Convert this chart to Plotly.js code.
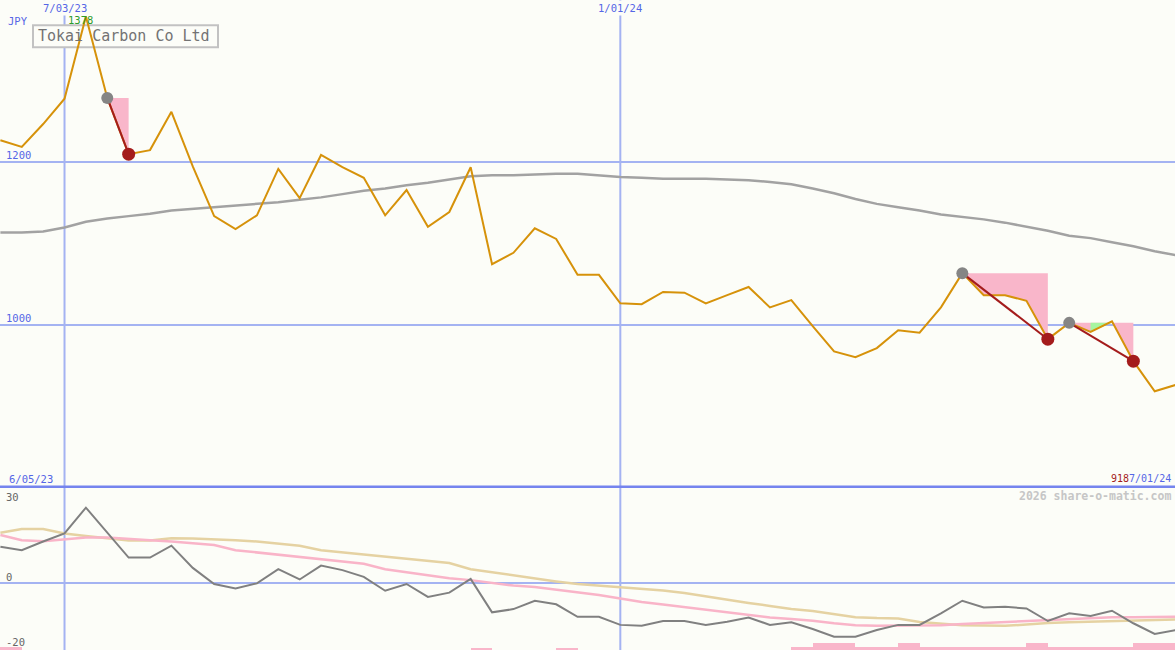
<!DOCTYPE html>
<html><head><meta charset="utf-8">
<script src="https://cdn.plot.ly/plotly-3.0.1.min.js"></script>
<style>html,body{margin:0;padding:0;background:#fcfdf8;overflow:hidden}#chart{width:1175px;height:650px}</style>
</head><body><div id="chart"></div>
<script>
// ---------- data ----------
const weeks = ['2023-06-12','2023-06-19','2023-06-26','2023-07-03','2023-07-10','2023-07-17','2023-07-24','2023-07-31',
'2023-08-07','2023-08-14','2023-08-21','2023-08-28','2023-09-04','2023-09-11','2023-09-18','2023-09-25',
'2023-10-02','2023-10-09','2023-10-16','2023-10-23','2023-10-30','2023-11-06','2023-11-13','2023-11-20','2023-11-27',
'2023-12-04','2023-12-11','2023-12-18','2023-12-25','2024-01-01','2024-01-08','2024-01-15','2024-01-22','2024-01-29',
'2024-02-05','2024-02-12','2024-02-19','2024-02-26','2024-03-04','2024-03-11','2024-03-18','2024-03-25',
'2024-04-01','2024-04-08','2024-04-15','2024-04-22','2024-04-29','2024-05-06','2024-05-13','2024-05-20','2024-05-27',
'2024-06-03','2024-06-10','2024-06-17','2024-06-24','2024-07-01'];
const price = [1226,1218,1246,1277,1378,1278,1209,1214,1261,1194,1133,1117,1134,1191,1155,1208,
1193,1180,1134,1165,1120,1138,1193,1074,1088,1118,1105,1061,1061,1026,1025,1040,1039,1026,
1036,1046,1021,1030,998,967,960,971,993,990,1021,1063,1036,1036,1029,982,1002,991,1004,955,918,926];
const priceMA = [1113,1113,1114,1119,1126,1130,1133,1136,1140,1142,1144,1146,1148,1150,1153,1156,
1160,1164,1167,1171,1174,1178,1182,1183,1183,1184,1185,1185,1183,1181,1180,1179,1179,1179,
1178,1177,1175,1172,1167,1161,1154,1148,1144,1140,1135,1132,1129,1125,1120,1115,1109,1106,1101,1096,1090,1085];
const oscMain = [11.4,10.3,13.0,15.5,23.5,15.7,8.0,8.0,11.7,4.8,-0.2,-1.6,0,4.4,1.2,5.5,
4.1,2.0,-2.3,-0.2,-4.2,-2.9,1.4,-9.0,-8.0,-5.4,-6.5,-10.4,-10.4,-12.9,-13.2,-11.7,-11.7,-12.9,
-11.9,-10.6,-12.9,-12.1,-14.2,-16.6,-16.6,-14.5,-12.9,-12.9,-9.3,-5.4,-7.5,-7.3,-7.8,-11.7,-9.3,-10.1,-8.5,-12.4,-15.7,-14.5];
const oscPink = [15.0,13.4,13.1,13.7,14.2,14.2,13.7,13.4,13.0,12.5,11.9,10.3,9.6,9.1,8.3,7.7,
6.9,6.1,4.4,3.5,2.4,1.6,1.0,0.1,-0.7,-1.1,-1.9,-2.7,-3.6,-4.7,-5.8,-6.6,-7.4,-8.3,
-9.1,-9.7,-10.6,-11.1,-11.6,-12.4,-13.0,-13.2,-13.2,-13.2,-13.0,-12.6,-12.3,-12.0,-11.6,-11.4,-11.2,-10.8,-10.5,-10.5,-10.4,-10.4];
const oscTan = [15.7,16.9,16.9,15.5,14.7,14.0,13.3,13.3,14.0,13.9,13.7,13.4,13.0,12.4,11.7,10.3,
9.6,8.9,8.3,7.7,6.9,6.3,4.4,3.4,2.6,1.5,0.6,-0.2,-0.7,-1.1,-1.6,-2.2,-3.0,-4.1,
-5.2,-6.1,-7.0,-8.0,-8.6,-9.5,-10.5,-10.8,-10.9,-12.0,-12.5,-13.0,-13.1,-13.2,-12.8,-12.3,-12.1,-11.9,-11.6,-11.4,-11.2,-11.2];
const signalBars = [1.0,0,0,0,0,0,0,0,0,0,0,0,0,0,0,0,
0,0,0,0,0,0,0.7,0,0,0,0.7,0,0,0,0,0,0,0,
0,0,0,1.0,2.1,2.1,1.0,1.0,2.1,1.0,1.0,1.0,1.0,1.0,2.1,1.0,1.0,1.0,1.0,2.1,2.1,0];
const drawdownStart = [5,45,50];
const drawdownEnd = [6,49,53];
const priceTicks = [1000,1200];
const oscTicks = [30,0,-20];
const xTickDates = ['2023-07-03','2024-01-01'];
const xTickLabels = ['7/03/23','1/01/24'];
const chartTitle = 'Tokai Carbon Co Ltd';
const currency = 'JPY';
const firstDateLabel = '6/05/23';
const lastDateLabel = '7/01/24';
const credit = '2026 share-o-matic.com';

// ---------- styles ----------
const BG = '#fcfdf8', GRID = '#a4b3f2', AXTXT = '#5566e6', MONO = 'DejaVu Sans Mono, monospace';
const PINK = '#f9b6ca', GREEN = '#a6f5a0', DARKRED = '#a41c1c';
const WEEK_MS = 7*24*3600*1000;

const traces = [];
// long moving average
traces.push({x:weeks, y:priceMA, type:'scatter', mode:'lines', line:{color:'#a2a2a2', width:2.5}, xaxis:'x', yaxis:'y'});
// drawdown fills: one pink polygon per drawdown, green over rising weeks
drawdownStart.forEach((s,k)=>{
  const e = drawdownEnd[k], level = price[s];
  const xs = weeks.slice(s,e+1), ys = price.slice(s,e+1);
  traces.push({x:xs.concat([weeks[e],weeks[s],weeks[s]]), y:ys.concat([level,level,price[s]]), type:'scatter',
    mode:'lines', fill:'toself', fillcolor:PINK, line:{width:0}, xaxis:'x', yaxis:'y'});
  for(let i=s;i<e;i++){
    if(price[i+1] > price[i]){
      traces.push({x:[weeks[i],weeks[i+1],weeks[i+1],weeks[i],weeks[i]],
        y:[price[i],Math.min(price[i+1],level),level,level,price[i]], type:'scatter', mode:'lines', fill:'toself',
        fillcolor:GREEN, line:{width:0}, xaxis:'x', yaxis:'y'});
    }
  }
});
// price line
traces.push({x:weeks, y:price, type:'scatter', mode:'lines', line:{color:'#d6920a', width:2}, xaxis:'x', yaxis:'y'});
// drawdown connector lines
const cx=[], cy=[];
drawdownStart.forEach((s,k)=>{ const e=drawdownEnd[k]; cx.push(weeks[s],weeks[e],null); cy.push(price[s],price[e],null); });
traces.push({x:cx, y:cy, type:'scatter', mode:'lines', line:{color:DARKRED, width:2}, xaxis:'x', yaxis:'y'});
traces.push({x:drawdownStart.map(i=>weeks[i]), y:drawdownStart.map(i=>price[i]), type:'scatter', mode:'markers',
  marker:{color:'#858585', size:12}, xaxis:'x', yaxis:'y'});
traces.push({x:drawdownEnd.map(i=>weeks[i]), y:drawdownEnd.map(i=>price[i]), type:'scatter', mode:'markers',
  marker:{color:DARKRED, size:13}, xaxis:'x', yaxis:'y'});

// lower panel
const oscRange = [-20.7, 29.3];
traces.push({x:weeks, y:signalBars, base:oscRange[0], type:'bar', offset:0, width:WEEK_MS,
  marker:{color:PINK, line:{width:0}}, xaxis:'x', yaxis:'y2'});
traces.push({x:weeks, y:oscTan, type:'scatter', mode:'lines', line:{color:'#e5d2a2', width:2.5}, xaxis:'x', yaxis:'y2'});
traces.push({x:weeks, y:oscPink, type:'scatter', mode:'lines', line:{color:'#f9b4c8', width:2.5}, xaxis:'x', yaxis:'y2'});
traces.push({x:weeks, y:oscMain, type:'scatter', mode:'lines', line:{color:'#808080', width:2}, xaxis:'x', yaxis:'y2'});

// ---------- layout ----------
const W=1175, H=650;
const py = p => 1 - p/H, px = p => p/W;
const TOP2 = 489, BOT2 = 650;
const y2pix = v => BOT2 - (v - oscRange[0]) / (oscRange[1]-oscRange[0]) * (BOT2-TOP2);
const shapes = [];
xTickDates.forEach(d=>shapes.push({type:'line', layer:'below', xref:'x', yref:'paper', x0:d, x1:d, y0:0, y1:1,
  line:{color:GRID, width:2}}));
shapes.push({type:'line', layer:'above', xref:'paper', yref:'paper', x0:0, x1:1, y0:py(486.8), y1:py(486.8),
  line:{color:'#7584ee', width:2.5}});
shapes.push({type:'rect', layer:'between', xref:'paper', yref:'paper', x0:px(33), x1:px(218), y0:py(47.3), y1:py(25.3),
  fillcolor:BG, line:{color:'#c2c2c2', width:2}});

const annotations = [];
const f = (size,color,extra)=>Object.assign({family:MONO, size:size, color:color}, extra||{});
xTickDates.forEach((d,i)=>annotations.push({xref:'x', yref:'paper', x:d, y:1, yanchor:'top', xanchor:'center',
  text:xTickLabels[i], showarrow:false, font:f(10.5,AXTXT), bgcolor:BG, borderpad:1}));
priceTicks.forEach(v=>annotations.push({xref:'paper', yref:'y', x:px(4), y:v, xanchor:'left', yanchor:'bottom',
  text:String(v), showarrow:false, font:f(10.5,AXTXT), yshift:-1}));
const oscMax = Math.max(...oscTicks);
oscTicks.forEach(v=>{
  const isTop = v===oscMax;
  annotations.push({xref:'paper', yref:'paper', x:px(4), y:py(isTop ? TOP2 : y2pix(v)+2), xanchor:'left',
    yanchor: isTop ? 'top' : 'bottom', text:String(v), showarrow:false, font:f(10.5,'#666666')});
});
annotations.push({xref:'paper', yref:'paper', x:px(6), y:py(13), xanchor:'left', yanchor:'top', text:currency,
  showarrow:false, font:f(10.5,AXTXT)});
annotations.push({xref:'paper', yref:'paper', x:px(124), y:py(36.3), xanchor:'center', yanchor:'middle', text:chartTitle,
  showarrow:false, font:f(15,'#737373')});
const maxI = price.indexOf(Math.max(...price)), minV = Math.min(...price);
annotations.push({xref:'x', yref:'paper', x:weeks[maxI], y:py(20.5), xanchor:'center', yanchor:'middle', xshift:-5,
  text:String(price[maxI]), showarrow:false, font:f(10.5,'#2c9c2c')});
annotations.push({xref:'paper', yref:'paper', x:px(7), y:py(479), xanchor:'left', yanchor:'middle', text:firstDateLabel,
  showarrow:false, font:f(10.5,AXTXT)});
annotations.push({xref:'paper', yref:'paper', x:px(1173), y:py(478.5), xanchor:'right', yanchor:'middle',
  text:'<span style="color:'+DARKRED+'">'+minV+'</span>'+lastDateLabel, showarrow:false, font:f(10,AXTXT)});
annotations.push({xref:'paper', yref:'paper', x:px(1173), y:py(496), xanchor:'right', yanchor:'middle', text:'<b>'+credit+'</b>',
  showarrow:false, font:f(11.5,'#c6c6c6')});

const layout = {
  width:W, height:H, margin:{l:0,r:0,t:0,b:0,pad:0}, paper_bgcolor:BG, plot_bgcolor:BG,
  showlegend:false, hovermode:false, bargap:0,
  xaxis:{type:'date', range:['2023-06-11 20:54','2024-06-30 15:24'], showgrid:false, zeroline:false,
    showticklabels:false, showline:false, ticks:'', anchor:'y2', fixedrange:true},
  yaxis:{domain:[py(487),1], range:[800.6,1398.2], tickvals:priceTicks, showticklabels:false, showgrid:true,
    gridcolor:GRID, gridwidth:2, zeroline:false, showline:false, ticks:'', anchor:'x'},
  yaxis2:{domain:[0,py(TOP2)], range:oscRange, tickvals:[0], showticklabels:false, showgrid:true,
    gridcolor:GRID, gridwidth:2, zeroline:false, showline:false, ticks:'', anchor:'x'},
  shapes:shapes, annotations:annotations
};
Plotly.newPlot('chart', traces, layout, {staticPlot:true, displayModeBar:false});
</script></body></html>
